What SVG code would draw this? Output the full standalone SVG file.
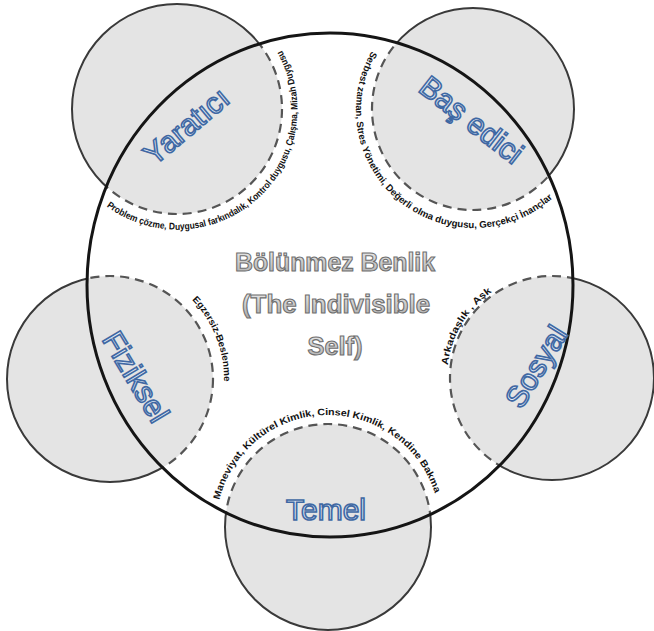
<svg xmlns="http://www.w3.org/2000/svg" width="654" height="631" viewBox="0 0 654 631">
<style>
.disc{fill:#e4e4e4;stroke:none}
.solid{fill:none;stroke:#3a3a3a;stroke-width:2}
.dash{fill:none;stroke:#555;stroke-width:2.2;stroke-dasharray:9 6}
.big{fill:none;stroke:#151515;stroke-width:3}
.arc{font-family:"Liberation Sans",Arial,sans-serif;font-weight:bold;font-size:9.5px;fill:#111}
.lbl{font-family:"Liberation Sans",Arial,sans-serif;font-size:30px;fill:url(#blue);stroke:#3f68a3;stroke-width:1.6;text-anchor:middle}
.ctr{font-family:"Liberation Sans",Arial,sans-serif;font-weight:bold;font-size:26px;fill:url(#gray);stroke:#6f6f6f;stroke-width:1.1;text-anchor:middle}
</style>
<defs>
<linearGradient id="blue" x1="0" y1="0" x2="0" y2="1"><stop offset="0" stop-color="#f7fafe"/><stop offset="1" stop-color="#c2d5ec"/></linearGradient>
<linearGradient id="gray" x1="0" y1="0" x2="0" y2="1"><stop offset="0" stop-color="#f0f0f0"/><stop offset="1" stop-color="#a9a9a9"/></linearGradient>
<clipPath id="inside"><ellipse cx="330" cy="285" rx="243" ry="252"/></clipPath>
<clipPath id="outside"><path clip-rule="evenodd" d="M0,0H654V631H0Z M87,285 A243,252 0 1 0 573,285 A243,252 0 1 0 87,285Z"/></clipPath>
<path id="pY" d="M106.5,206.4 A120,120 0 0 0 281,49"/>
<path id="pB" d="M371.8,51 A118,118 0 0 0 554.5,196.3"/>
<path id="pF" d="M192,299.8 A114,114 0 0 1 223.9,383"/>
<path id="pS" d="M447.8,365.2 A105,105 0 0 1 493.3,290.9"/>
<path id="pT" d="M219.3,499.9 A112,112 0 0 1 437.1,501.8"/>
</defs>
<rect width="654" height="631" fill="#fff"/>

<g id="yaratici">
<circle class="disc" cx="177" cy="109" r="105"/>
<circle class="solid" cx="177" cy="109" r="105" clip-path="url(#outside)"/>
<circle class="dash" cx="177" cy="109" r="105" clip-path="url(#inside)"/>
</g>
<g id="bas-edici">
<circle class="disc" cx="473" cy="109" r="101"/>
<circle class="solid" cx="473" cy="109" r="101" clip-path="url(#outside)"/>
<circle class="dash" cx="473" cy="109" r="101" clip-path="url(#inside)"/>
</g>
<g id="fiziksel">
<circle class="disc" cx="110" cy="379" r="103"/>
<circle class="solid" cx="110" cy="379" r="103" clip-path="url(#outside)"/>
<circle class="dash" cx="110" cy="379" r="103" clip-path="url(#inside)"/>
</g>
<g id="sosyal">
<circle class="disc" cx="552" cy="378" r="102"/>
<circle class="solid" cx="552" cy="378" r="102" clip-path="url(#outside)"/>
<circle class="dash" cx="552" cy="378" r="102" clip-path="url(#inside)"/>
</g>
<g id="temel">
<circle class="disc" cx="328" cy="527" r="103"/>
<circle class="solid" cx="328" cy="527" r="103" clip-path="url(#outside)"/>
<circle class="dash" cx="328" cy="527" r="103" clip-path="url(#inside)"/>
</g>

<g id="benlik">
<ellipse class="big" cx="330" cy="285" rx="243" ry="252"/>
<text class="ctr" x="335" y="271" textLength="200" lengthAdjust="spacingAndGlyphs">Bölünmez Benlik</text>
<text class="ctr" x="336" y="313" textLength="188" lengthAdjust="spacingAndGlyphs">(The Indivisible</text>
<text class="ctr" x="335" y="355" textLength="55" lengthAdjust="spacingAndGlyphs">Self)</text>
</g>

<g id="labels">
<text class="lbl" transform="translate(193,134) rotate(-40)">Yaratıcı</text>
<text class="lbl" transform="translate(465,128) rotate(38)">Baş edici</text>
<text class="lbl" transform="translate(127,382) rotate(59)">Fiziksel</text>
<text class="lbl" transform="translate(545,372) rotate(-58)">Sosyal</text>
<text class="lbl" x="326" y="520">Temel</text>
</g>

<g id="curved-texts">
<text class="arc"><textPath href="#pY" textLength="326" lengthAdjust="spacingAndGlyphs">Problem çözme, Duygusal farkındalık, Kontrol duygusu, Çalışma, Mizah Duygusu</textPath></text>
<text class="arc"><textPath href="#pB" textLength="333" lengthAdjust="spacingAndGlyphs">Serbest zaman, Stres Yönetimi, Değerli olma duygusu, Gerçekçi İnançlar</textPath></text>
<text class="arc"><textPath href="#pF" textLength="90" lengthAdjust="spacingAndGlyphs">Egzersiz-Beslenme</textPath></text>
<text class="arc"><textPath href="#pS" textLength="88" lengthAdjust="spacingAndGlyphs">Arkadaşlık , Aşk</textPath></text>
<text class="arc"><textPath href="#pT" textLength="290" lengthAdjust="spacingAndGlyphs">Maneviyat, Kültürel Kimlik, Cinsel Kimlik, Kendine Bakma</textPath></text>
</g>
</svg>
